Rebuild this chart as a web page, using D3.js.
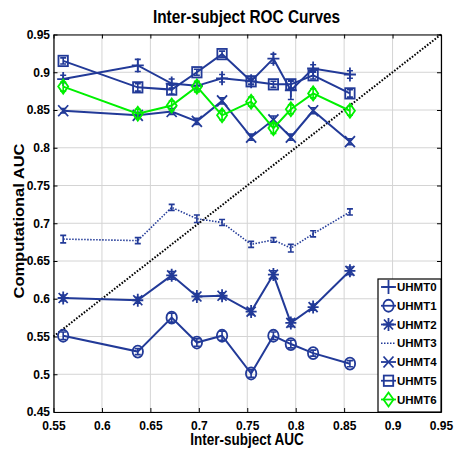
<!DOCTYPE html>
<html>
<head>
<meta charset="utf-8">
<script src="https://cdn.jsdelivr.net/npm/d3@7"></script>
<style>
  html, body { margin: 0; padding: 0; background: #fff; }
  svg { display: block; font-family: "Liberation Sans", Arial, sans-serif; }
</style>
</head>
<body>
<svg id="chart" width="456" height="453"></svg>
<script>
// ---- data ----
const interSubjectAUC = [0.560, 0.637, 0.672, 0.698, 0.724, 0.754, 0.777, 0.795, 0.818, 0.856];
const seriesNames = ["UHMT0", "UHMT1", "UHMT2", "UHMT3", "UHMT4", "UHMT5", "UHMT6"];
const uhmt0 = [0.891, 0.909, 0.885, 0.882, 0.892, 0.888, 0.918, 0.876, 0.905, 0.897];
const uhmt1 = [0.551, 0.530, 0.575, 0.542, 0.551, 0.501, 0.551, 0.540, 0.528, 0.514];
const uhmt2 = [0.601, 0.598, 0.631, 0.603, 0.604, 0.583, 0.632, 0.568, 0.589, 0.637];
const uhmt3 = [0.679, 0.677, 0.721, 0.706, 0.701, 0.672, 0.678, 0.667, 0.686, 0.715];
const uhmt4 = [0.849, 0.843, 0.848, 0.835, 0.862, 0.814, 0.837, 0.814, 0.849, 0.808];
const uhmt5 = [0.915, 0.880, 0.877, 0.900, 0.924, 0.888, 0.884, 0.884, 0.896, 0.872];
const uhmt6 = [0.881, 0.845, 0.856, 0.881, 0.843, 0.861, 0.826, 0.851, 0.872, 0.849];
const err0 = [0.005, 0.008, 0.006, 0.004, 0.005, 0.004, 0.006, 0.012, 0.005, 0.005];
const err1 = [0.005, 0.004, 0.006, 0.005, 0.006, 0.005, 0.005, 0.005, 0.004, 0.004];
const err2 = [0.004, 0.004, 0.005, 0.004, 0.004, 0.004, 0.005, 0.005, 0.004, 0.005];
const err3 = [0.005, 0.004, 0.004, 0.005, 0.004, 0.004, 0.003, 0.005, 0.004, 0.004];
const err4 = [0.003, 0.004, 0.004, 0.004, 0.004, 0.004, 0.005, 0.004, 0.004, 0.004];
const err5 = [0.004, 0.005, 0.006, 0.004, 0.004, 0.004, 0.004, 0.005, 0.005, 0.005];
const err6 = [0.006, 0.006, 0.006, 0.007, 0.006, 0.006, 0.007, 0.006, 0.006, 0.006];
const xTicks = [0.55, 0.6, 0.65, 0.7, 0.75, 0.8, 0.85, 0.9, 0.95];
const yTicks = [0.45, 0.5, 0.55, 0.6, 0.65, 0.7, 0.75, 0.8, 0.85, 0.9, 0.95];
const titleText = "Inter-subject ROC Curves";
const xLabelText = "Inter-subject AUC";
const yLabelText = "Computational AUC";

// ---- setup ----
const BLUE = "#223a98", GREEN = "#00f000";
const series = [
  { name: seriesNames[0], v: uhmt0, e: err0, color: BLUE, marker: "plus", dash: null },
  { name: seriesNames[1], v: uhmt1, e: err1, color: BLUE, marker: "circle", dash: null },
  { name: seriesNames[2], v: uhmt2, e: err2, color: BLUE, marker: "star", dash: null },
  { name: seriesNames[3], v: uhmt3, e: err3, color: BLUE, marker: "none", dash: "1.5,1.5" },
  { name: seriesNames[4], v: uhmt4, e: err4, color: BLUE, marker: "x", dash: null },
  { name: seriesNames[5], v: uhmt5, e: err5, color: BLUE, marker: "square", dash: null },
  { name: seriesNames[6], v: uhmt6, e: err6, color: GREEN, marker: "diamond", dash: null }
];

const svg = d3.select("#chart");
const L = 53.5, R = 441, T = 34.5, B = 412;
const x = d3.scaleLinear().domain([0.55, 0.95]).range([L, R]);
const y = d3.scaleLinear().domain([0.45, 0.95]).range([B, T]);

// grid
const grid = svg.append("g");
grid.selectAll("line.gx").data(xTicks).join("line")
  .attr("x1", d => x(d)).attr("x2", d => x(d)).attr("y1", T).attr("y2", B)
  .attr("stroke", "#d4d4d4").attr("stroke-width", 1);
grid.selectAll("line.gy").data(yTicks).join("line")
  .attr("y1", d => y(d)).attr("y2", d => y(d)).attr("x1", L).attr("x2", R)
  .attr("stroke", "#d4d4d4").attr("stroke-width", 1);

// axes (ticks inward)
const fmt = d => String(+d.toFixed(2));
const xAxisG = svg.append("g").attr("transform", `translate(0,${B})`)
  .call(d3.axisBottom(x).tickValues(xTicks).tickFormat(fmt).tickSizeInner(-4).tickSizeOuter(0).tickPadding(9));
const yAxisG = svg.append("g").attr("transform", `translate(${L},0)`)
  .call(d3.axisLeft(y).tickValues(yTicks).tickFormat(fmt).tickSizeInner(-4).tickSizeOuter(0).tickPadding(3.5));
svg.append("g").attr("transform", `translate(0,${T})`)
  .call(d3.axisTop(x).tickValues(xTicks).tickFormat("").tickSizeInner(-4).tickSizeOuter(0));
svg.append("g").attr("transform", `translate(${R},0)`)
  .call(d3.axisRight(y).tickValues(yTicks).tickFormat("").tickSizeInner(-4).tickSizeOuter(0));
svg.selectAll(".domain").attr("stroke", "#000").attr("stroke-width", 1.2);
svg.selectAll(".tick line").attr("stroke", "#000");
[xAxisG, yAxisG].forEach(g => g.selectAll("text")
  .attr("font-size", 12).attr("font-weight", "bold").attr("fill", "#000")
  .attr("font-family", "'Liberation Sans', Arial, sans-serif"));

// diagonal reference
svg.append("line")
  .attr("x1", x(0.55)).attr("y1", y(0.55)).attr("x2", x(0.95)).attr("y2", y(0.95))
  .attr("stroke", "#000").attr("stroke-width", 2).attr("stroke-dasharray", "1.6,1.6");

// marker drawer
function drawMarker(g, type, cx, cy, color) {
  const sw = 1.8;
  if (type === "plus") {
    g.append("path").attr("d", `M${cx-6},${cy}H${cx+6}M${cx},${cy-7}V${cy+7}`)
      .attr("stroke", color).attr("stroke-width", sw).attr("fill", "none");
  } else if (type === "circle") {
    g.append("ellipse").attr("cx", cx).attr("cy", cy).attr("rx", 5.2).attr("ry", 6)
      .attr("stroke", color).attr("stroke-width", sw).attr("fill", "none");
  } else if (type === "star") {
    g.append("path").attr("d",
      `M${cx-5.5},${cy}H${cx+5.5}M${cx},${cy-6.5}V${cy+6.5}M${cx-4.5},${cy-5}L${cx+4.5},${cy+5}M${cx-4.5},${cy+5}L${cx+4.5},${cy-5}`)
      .attr("stroke", color).attr("stroke-width", sw).attr("fill", "none");
  } else if (type === "x") {
    g.append("path").attr("d", `M${cx-5},${cy-5.5}L${cx+5},${cy+5.5}M${cx-5},${cy+5.5}L${cx+5},${cy-5.5}`)
      .attr("stroke", color).attr("stroke-width", sw).attr("fill", "none");
  } else if (type === "square") {
    g.append("rect").attr("x", cx-4.7).attr("y", cy-5.2).attr("width", 9.4).attr("height", 10.4)
      .attr("stroke", color).attr("stroke-width", sw).attr("fill", "none");
  } else if (type === "diamond") {
    g.append("path").attr("d", `M${cx},${cy-7}L${cx+5},${cy}L${cx},${cy+7}L${cx-5},${cy}Z`)
      .attr("stroke", color).attr("stroke-width", sw).attr("fill", "none");
  }
}

// series
const line = d3.line().x(d => x(d[0])).y(d => y(d[1]));
series.forEach(s => {
  const g = svg.append("g");
  const pts = interSubjectAUC.map((xv, i) => [xv, s.v[i], s.e[i]]);
  g.append("path").attr("d", line(pts)).attr("fill", "none")
    .attr("stroke", s.color).attr("stroke-width", s.dash ? 1.6 : 2)
    .attr("stroke-dasharray", s.dash);
  // error bars
  pts.forEach(p => {
    const cx = x(p[0]), y1 = y(p[1] - p[2]), y2 = y(p[1] + p[2]);
    g.append("path").attr("d", `M${cx},${y1}V${y2}M${cx-3},${y1}H${cx+3}M${cx-3},${y2}H${cx+3}`)
      .attr("stroke", s.color).attr("stroke-width", 1.6).attr("fill", "none");
  });
  pts.forEach(p => drawMarker(g, s.marker, x(p[0]), y(p[1]), s.color));
});

// legend
const lg = svg.append("g");
const LX = 378, LY = 279, LW = 63, LH = 133;
lg.append("rect").attr("x", LX).attr("y", LY).attr("width", LW).attr("height", LH)
  .attr("fill", "#fff").attr("stroke", "#000").attr("stroke-width", 1.2);
const ly = d3.scalePoint().domain(seriesNames).range([LY + 8, LY + 120.5]);
series.forEach(s => {
  const yy = ly(s.name);
  lg.append("line").attr("x1", LX + 3).attr("x2", LX + 18).attr("y1", yy).attr("y2", yy)
    .attr("stroke", s.color).attr("stroke-width", s.dash ? 1.4 : 1.8)
    .attr("stroke-dasharray", s.dash);
  drawMarker(lg, s.marker, LX + 10.5, yy, s.color);
  lg.append("text").attr("x", LX + 19).attr("y", yy).attr("dy", "0.36em")
    .attr("font-size", 11.5).attr("font-weight", "bold").attr("fill", "#000")
    .text(s.name);
});

// title & labels (slight vertical stretch like the reference)
svg.append("g").attr("transform", "translate(246.5,23) scale(1,1.18)")
  .append("text").attr("text-anchor", "middle").attr("font-size", 15.4)
  .attr("font-weight", "bold").attr("fill", "#000").text(titleText);
svg.append("g").attr("transform", "translate(247,445) scale(1,1.18)")
  .append("text").attr("text-anchor", "middle").attr("font-size", 13.5)
  .attr("font-weight", "bold").attr("fill", "#000").text(xLabelText);
svg.append("g").attr("transform", "translate(23.5,221) rotate(-90) scale(1.1,1)")
  .append("text").attr("text-anchor", "middle").attr("font-size", 15)
  .attr("font-weight", "bold").attr("fill", "#000").text(yLabelText);
</script>
</body>
</html>
